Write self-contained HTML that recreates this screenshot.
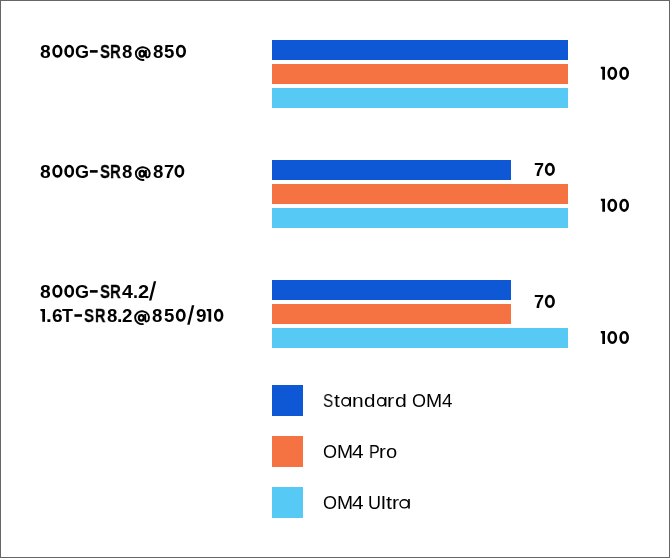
<!DOCTYPE html>
<html>
<head>
<meta charset="utf-8">
<style>
html,body{margin:0;padding:0;background:#fff;}
body{width:670px;height:558px;overflow:hidden;position:relative;font-family:"Liberation Sans",sans-serif;color:#000;}
.frame{position:absolute;left:0;top:0;width:668px;height:556px;border:1px solid #666;}
.bar{position:absolute;left:272px;height:20px;}
.b{background:#0E58D6;}
.o{background:#F57343;}
.c{background:#57C9F5;}
.full{width:296px;}
.short{width:239px;}
.sq{position:absolute;left:272px;width:31px;height:31px;}
.gb,.gr{position:absolute;font-size:18px;line-height:24px;white-space:pre;transform-origin:0 0;will-change:transform;}
.gb{font-weight:bold;}
.ov{position:absolute;left:0;top:0;}
.gr{font-weight:normal;}
</style>
</head>
<body>
<div class="frame"></div>
<div class="bar b full" style="top:40px"></div>
<div class="bar o full" style="top:64px"></div>
<div class="bar c full" style="top:88px"></div>
<div class="bar b short" style="top:160px"></div>
<div class="bar o full" style="top:184px"></div>
<div class="bar c full" style="top:208px"></div>
<div class="bar b short" style="top:280px"></div>
<div class="bar o short" style="top:304px"></div>
<div class="bar c full" style="top:328px"></div>
<div class="sq b" style="top:385px"></div>
<div class="sq o" style="top:436px"></div>
<div class="sq c" style="top:487px"></div>
<span class="gb" style="left:40.33px;top:40.00px;transform:scaleX(1.070)">8</span>
<span class="gb" style="left:75.16px;top:40.00px;transform:scaleX(0.981)">G</span>
<span class="gb" style="left:99.69px;top:40.00px;transform:scaleX(0.828);-webkit-text-stroke:0.29px #000">S</span>
<span class="gb" style="left:110.27px;top:40.00px;transform:scaleX(0.826);-webkit-text-stroke:0.29px #000">R</span>
<span class="gb" style="left:122.45px;top:40.00px;transform:scaleX(1.037)">8</span>
<span class="gb" style="left:152.95px;top:40.00px;transform:scaleX(1.037)">8</span>
<span class="gb" style="left:163.95px;top:40.00px;transform:scaleX(1.037)">5</span>
<span class="gb" style="left:40.33px;top:160.00px;transform:scaleX(1.070)">8</span>
<span class="gb" style="left:75.16px;top:160.00px;transform:scaleX(0.981)">G</span>
<span class="gb" style="left:99.69px;top:160.00px;transform:scaleX(0.828);-webkit-text-stroke:0.29px #000">S</span>
<span class="gb" style="left:110.27px;top:160.00px;transform:scaleX(0.826);-webkit-text-stroke:0.29px #000">R</span>
<span class="gb" style="left:122.45px;top:160.00px;transform:scaleX(1.037)">8</span>
<span class="gb" style="left:152.65px;top:160.00px;transform:scaleX(1.037)">8</span>
<span class="gb" style="left:163.53px;top:160.00px;transform:scaleX(1.024)">7</span>
<span class="gb" style="left:40.33px;top:280.00px;transform:scaleX(1.070)">8</span>
<span class="gb" style="left:75.16px;top:280.00px;transform:scaleX(0.981)">G</span>
<span class="gb" style="left:99.69px;top:280.00px;transform:scaleX(0.828);-webkit-text-stroke:0.29px #000">S</span>
<span class="gb" style="left:110.27px;top:280.00px;transform:scaleX(0.826);-webkit-text-stroke:0.29px #000">R</span>
<span class="gb" style="left:122.23px;top:280.00px;transform:scaleX(1.081)">4</span>
<span class="gb" style="left:133.20px;top:280.00px;transform:scaleX(0.960)">.</span>
<span class="gb" style="left:137.60px;top:280.00px;transform:scaleX(1.113)">2</span>
<span class="gb" style="left:45.58px;top:304.00px;transform:scaleX(1.150)">.</span>
<span class="gb" style="left:51.64px;top:304.00px;transform:scaleX(1.063)">6</span>
<span class="gb" style="left:62.26px;top:304.00px;transform:scaleX(0.962)">T</span>
<span class="gb" style="left:84.08px;top:304.00px;transform:scaleX(0.837);-webkit-text-stroke:0.25px #000">S</span>
<span class="gb" style="left:94.80px;top:304.00px;transform:scaleX(0.800);-webkit-text-stroke:0.40px #000">R</span>
<span class="gb" style="left:106.95px;top:304.00px;transform:scaleX(1.037)">8</span>
<span class="gb" style="left:117.25px;top:304.00px;transform:scaleX(1.080)">.</span>
<span class="gb" style="left:122.45px;top:304.00px;transform:scaleX(1.043)">2</span>
<span class="gb" style="left:152.25px;top:304.00px;transform:scaleX(1.037)">8</span>
<span class="gb" style="left:163.85px;top:304.00px;transform:scaleX(1.037)">5</span>
<span class="gb" style="left:195.94px;top:304.00px;transform:scaleX(1.051)">9</span>

<span class="gb" style="left:533.95px;top:158.00px;transform:scaleX(1.000)">7</span>

<span class="gb" style="left:533.95px;top:290.00px;transform:scaleX(1.000)">7</span>

<span class="gr" style="left:322.95px;top:389.00px;transform:scaleX(0.850)">S</span>
<span class="gr" style="left:333.71px;top:389.00px;transform:scaleX(1.168)">t</span>
<span class="gr" style="left:352.44px;top:389.00px;transform:scaleX(1.167)">n</span>
<span class="gr" style="left:364.34px;top:389.00px;transform:scaleX(1.145)">d</span>
<span class="gr" style="left:387.00px;top:389.00px;transform:scaleX(1.200)">r</span>
<span class="gr" style="left:395.01px;top:389.00px;transform:scaleX(1.182)">d</span>
<span class="gr" style="left:412.35px;top:389.00px;transform:scaleX(0.971)">O</span>
<span class="gr" style="left:425.59px;top:389.00px;transform:scaleX(1.075)">M</span>
<span class="gr" style="left:441.71px;top:389.00px;transform:scaleX(1.041)">4</span>
<span class="gr" style="left:323.03px;top:440.00px;transform:scaleX(0.996)">O</span>
<span class="gr" style="left:336.60px;top:440.00px;transform:scaleX(1.067)">M</span>
<span class="gr" style="left:352.36px;top:440.00px;transform:scaleX(1.162)">4</span>
<span class="gr" style="left:368.67px;top:440.00px;transform:scaleX(0.884)">P</span>
<span class="gr" style="left:379.18px;top:440.00px;transform:scaleX(1.133)">r</span>
<span class="gr" style="left:386.06px;top:440.00px;transform:scaleX(1.118)">o</span>
<span class="gr" style="left:323.03px;top:491.00px;transform:scaleX(0.996)">O</span>
<span class="gr" style="left:336.60px;top:491.00px;transform:scaleX(1.067)">M</span>
<span class="gr" style="left:352.36px;top:491.00px;transform:scaleX(1.162)">4</span>
<span class="gr" style="left:368.45px;top:491.00px;transform:scaleX(0.985)">U</span>
<span class="gr" style="left:380.65px;top:491.00px;transform:scaleX(1.200)">l</span>
<span class="gr" style="left:385.53px;top:491.00px;transform:scaleX(1.200)">t</span>
<span class="gr" style="left:391.83px;top:491.00px;transform:scaleX(1.178)">r</span>
<svg class="ov" width="670" height="558" viewBox="0 0 670 558"><ellipse cx="57.40" cy="51.20" rx="3.80" ry="5.20" fill="none" stroke="#000" stroke-width="2.6"/><ellipse cx="69.20" cy="51.20" rx="3.60" ry="5.20" fill="none" stroke="#000" stroke-width="2.6"/><rect x="89.90" y="50.10" width="7.80" height="2.6"/><path d="M145.90 50.00V55.80C145.90 58.10 148.49 57.60 149.29 56.00A7.0 6.4 0 1 0 144.26 59.86" fill="none" stroke="#000" stroke-width="1.9"/><ellipse cx="142.00" cy="53.75" rx="2.45" ry="2.8" fill="none" stroke="#000" stroke-width="2.2"/><ellipse cx="180.95" cy="51.20" rx="3.75" ry="5.20" fill="none" stroke="#000" stroke-width="2.6"/><ellipse cx="57.40" cy="171.20" rx="3.80" ry="5.20" fill="none" stroke="#000" stroke-width="2.6"/><ellipse cx="69.20" cy="171.20" rx="3.60" ry="5.20" fill="none" stroke="#000" stroke-width="2.6"/><rect x="89.90" y="170.10" width="7.80" height="2.6"/><path d="M145.90 170.00V175.80C145.90 178.10 148.49 177.60 149.29 176.00A7.0 6.4 0 1 0 144.26 179.86" fill="none" stroke="#000" stroke-width="1.9"/><ellipse cx="142.00" cy="173.75" rx="2.45" ry="2.8" fill="none" stroke="#000" stroke-width="2.2"/><ellipse cx="179.40" cy="171.20" rx="3.60" ry="5.20" fill="none" stroke="#000" stroke-width="2.6"/><ellipse cx="57.40" cy="291.20" rx="3.80" ry="5.20" fill="none" stroke="#000" stroke-width="2.6"/><ellipse cx="69.20" cy="291.20" rx="3.60" ry="5.20" fill="none" stroke="#000" stroke-width="2.6"/><rect x="89.90" y="290.10" width="7.80" height="2.6"/><path d="M153.80 281.20H156.20L151.40 300.60H149.00Z"/><path d="M40.40 308.90H45.00V321.70H42.30V311.60L40.40 310.70Z"/><rect x="74.40" y="314.20" width="7.60" height="2.6"/><path d="M145.20 314.10V319.90C145.20 322.20 147.79 321.70 148.59 320.10A7.0 6.4 0 1 0 143.56 323.96" fill="none" stroke="#000" stroke-width="1.9"/><ellipse cx="141.30" cy="317.85" rx="2.45" ry="2.8" fill="none" stroke="#000" stroke-width="2.2"/><ellipse cx="180.75" cy="315.30" rx="3.65" ry="5.20" fill="none" stroke="#000" stroke-width="2.6"/><path d="M191.90 305.30H194.30L189.60 324.70H187.20Z"/><path d="M206.70 308.90H211.20V321.70H208.50V311.60L206.70 310.70Z"/><ellipse cx="218.65" cy="315.30" rx="3.45" ry="5.20" fill="none" stroke="#000" stroke-width="2.6"/><path d="M600.80 66.80H605.00V79.80H602.30V69.50L600.80 68.60Z"/><ellipse cx="612.30" cy="73.30" rx="3.60" ry="5.30" fill="none" stroke="#000" stroke-width="2.6"/><ellipse cx="624.15" cy="73.30" rx="3.55" ry="5.30" fill="none" stroke="#000" stroke-width="2.6"/><ellipse cx="549.85" cy="169.35" rx="3.75" ry="5.25" fill="none" stroke="#000" stroke-width="2.6"/><path d="M600.80 198.80H605.00V211.80H602.30V201.50L600.80 200.60Z"/><ellipse cx="612.30" cy="205.30" rx="3.60" ry="5.30" fill="none" stroke="#000" stroke-width="2.6"/><ellipse cx="624.15" cy="205.30" rx="3.55" ry="5.30" fill="none" stroke="#000" stroke-width="2.6"/><ellipse cx="549.85" cy="301.40" rx="3.75" ry="5.30" fill="none" stroke="#000" stroke-width="2.6"/><path d="M600.80 331.10H605.00V343.90H602.30V333.80L600.80 332.90Z"/><ellipse cx="612.30" cy="337.50" rx="3.60" ry="5.20" fill="none" stroke="#000" stroke-width="2.6"/><ellipse cx="624.15" cy="337.50" rx="3.55" ry="5.20" fill="none" stroke="#000" stroke-width="2.6"/><ellipse cx="345.85" cy="401.80" rx="3.93" ry="4.08" fill="none" stroke="#000" stroke-width="1.45"/><rect x="349.40" y="397.00" width="1.6" height="9.60"/><ellipse cx="381.40" cy="401.80" rx="3.77" ry="4.08" fill="none" stroke="#000" stroke-width="1.45"/><rect x="384.80" y="397.00" width="1.6" height="9.60"/><ellipse cx="404.30" cy="503.80" rx="4.28" ry="4.08" fill="none" stroke="#000" stroke-width="1.45"/><rect x="408.20" y="499.00" width="1.6" height="9.60"/></svg>
</body>
</html>
